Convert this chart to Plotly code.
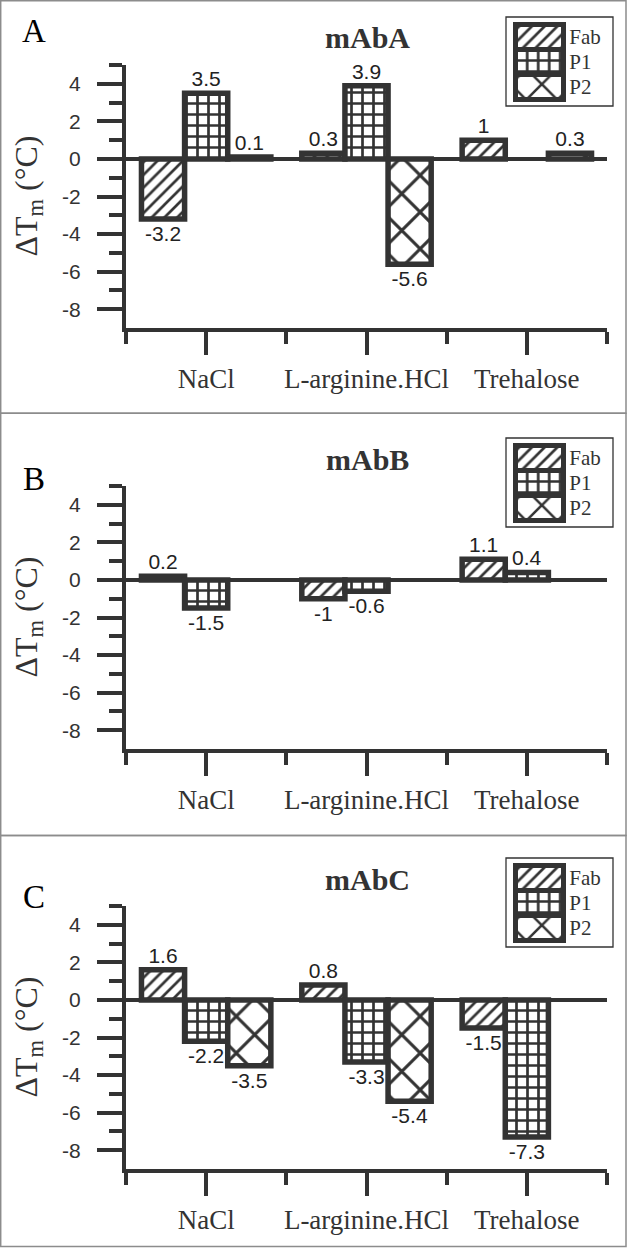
import plotly.graph_objects as go

W, H = 628, 1248

CATEGORIES = ["NaCl", "L-arginine.HCl", "Trehalose"]
SERIES = ["Fab", "P1", "P2"]
PANEL_TITLES = ["mAbA", "mAbB", "mAbC"]
PANEL_LETTERS = ["A", "B", "C"]

MABA_FAB = [-3.2, 0.3, 1.0]
MABA_P1 = [3.5, 3.9, None]
MABA_P2 = [0.1, -5.6, 0.3]

MABB_FAB = [0.2, -1.0, 1.1]
MABB_P1 = [-1.5, -0.6, 0.4]
MABB_P2 = [None, None, None]

MABC_FAB = [1.6, 0.8, -1.5]
MABC_P1 = [-2.2, -3.3, -7.3]
MABC_P2 = [-3.5, -5.4, None]

Y_TICKS = [4, 2, 0, -2, -4, -6, -8]
Y_MINOR = [5, 3, 1, -1, -3, -5, -7]
Y_RANGE = [-9, 5]
LEGEND_SWATCH = [1, 1, 1]

PANEL_DATA = [
    [MABA_FAB, MABA_P1, MABA_P2],
    [MABB_FAB, MABB_P1, MABB_P2],
    [MABC_FAB, MABC_P1, MABC_P2],
]

# ---------- styling ----------
INK = "#333333"
SERIF = "Liberation Serif, Times New Roman, serif"
SANS = "Liberation Sans, Arial, sans-serif"
PATTERNS = {
    "Fab": dict(shape="/", size=9, solidity=0.3),
    "P1": dict(shape="+", size=11, solidity=0.43),
    "P2": dict(shape="x", size=26, solidity=0.22),
}
GROUP_WIDTH = 0.807
BAR_W = GROUP_WIDTH / len(SERIES)

# panel geometry in pixels
AXIS_TOP = [65, 486, 906]
AXIS_BOT = [328, 749, 1169]
BOX_TOP = [0.7, 413.3, 835.5]
BOX_BOT = [413.3, 835.5, 1246.5]
LETTER_Y = [31, 479, 897]
TITLE_Y = [37, 459, 879]
X_LEFT, X_RIGHT = 126, 607


def px(x):
    return x / W


def py(y):
    return 1 - y / H


fig = go.Figure()
layout = dict(
    width=W, height=H,
    margin=dict(l=0, r=0, t=0, b=0),
    paper_bgcolor="white", plot_bgcolor="rgba(0,0,0,0)",
    barmode="group",
    showlegend=False,
)
annotations = []
shapes = []

for i in range(3):
    n = i + 1
    xa = "x" if n == 1 else f"x{n}"
    ya = "y" if n == 1 else f"y{n}"
    for j, (s, vals) in enumerate(zip(SERIES, PANEL_DATA[i])):
        p = PATTERNS[s]
        xs = [k for k, v in enumerate(vals) if v is not None]
        ys = [v for v in vals if v is not None]
        fig.add_trace(go.Bar(
            x=xs, y=ys, name=s,
            text=[f"{v:g}" for v in ys], textposition="outside",
            cliponaxis=False,
            width=BAR_W, offset=-GROUP_WIDTH / 2 + j * BAR_W,
            textfont=dict(family=SANS, size=21, color="#222222"),
            marker=dict(
                color="white",
                line=dict(color=INK, width=5.5),
                pattern=dict(shape=p["shape"], size=p["size"], solidity=p["solidity"],
                             fgcolor=INK, bgcolor="white", fillmode="replace"),
            ),
            xaxis=xa, yaxis=ya, hoverinfo="skip",
        ))
    xkey = "xaxis" if n == 1 else f"xaxis{n}"
    ykey = "yaxis" if n == 1 else f"yaxis{n}"
    layout[xkey] = dict(
        domain=[px(X_LEFT), px(X_RIGHT)], anchor=ya,
        range=[-0.5, len(CATEGORIES) - 0.5],
        tickmode="array", tickvals=list(range(len(CATEGORIES))), ticktext=CATEGORIES,
        ticks="outside", ticklen=23, tickwidth=4, tickcolor=INK,
        minor=dict(tickmode="array", tickvals=[k - 0.5 for k in range(len(CATEGORIES) + 1)],
                   ticks="outside", ticklen=12, tickwidth=4, tickcolor=INK, showgrid=False),
        showline=True, linewidth=4, linecolor=INK,
        showgrid=False, zeroline=False,
        tickfont=dict(family=SERIF, size=27, color=INK),
        ticklabelstandoff=1,
        fixedrange=True,
    )
    layout[ykey] = dict(
        domain=[py(AXIS_BOT[i]), py(AXIS_TOP[i])], anchor=xa,
        range=Y_RANGE,
        tickmode="array", tickvals=Y_TICKS, ticktext=[str(t) for t in Y_TICKS],
        ticks="outside", ticklen=25, tickwidth=4, tickcolor=INK,
        minor=dict(tickmode="array", tickvals=Y_MINOR, ticks="outside", ticklen=13,
                   tickwidth=4, tickcolor=INK, showgrid=False),
        showline=True, linewidth=4, linecolor=INK,
        showgrid=False,
        zeroline=True, zerolinewidth=4, zerolinecolor=INK,
        tickfont=dict(family=SANS, size=21, color=INK),
        ticklabelstandoff=12,
        fixedrange=True,
    )
    # y axis title
    annotations.append(dict(
        text="ΔT<sub>m</sub> (°C)", textangle=-90,
        x=px(28), y=py((AXIS_TOP[i] + AXIS_BOT[i]) / 2), xref="paper", yref="paper",
        xanchor="center", yanchor="middle", showarrow=False,
        font=dict(family=SERIF, size=32, color=INK),
    ))
    # panel letter
    annotations.append(dict(
        text=PANEL_LETTERS[i], x=px(34), y=py(LETTER_Y[i]), xref="paper", yref="paper",
        xanchor="center", yanchor="middle", showarrow=False,
        font=dict(family=SERIF, size=33, color="black"),
    ))
    # panel title
    annotations.append(dict(
        text="<b>" + PANEL_TITLES[i] + "</b>", x=px(367), y=py(TITLE_Y[i]),
        xref="paper", yref="paper", xanchor="center", yanchor="middle", showarrow=False,
        font=dict(family=SERIF, size=30, color=INK),
    ))
    # panel frame
    shapes.append(dict(type="rect", xref="paper", yref="paper",
                       x0=px(0.7), x1=px(626), y0=py(BOX_BOT[i]), y1=py(BOX_TOP[i]),
                       line=dict(color="#8c8c8c", width=1.5), layer="below"))

    # ---- custom legend (one per panel) ----
    ln = n + 3
    lxa, lya = f"x{ln}", f"y{ln}"
    top = AXIS_TOP[i]
    fig.add_trace(go.Bar(
        x=LEGEND_SWATCH, y=SERIES, orientation="h", width=1,
        marker=dict(
            color="white", line=dict(color=INK, width=5),
            pattern=dict(shape=[PATTERNS[s]["shape"] for s in SERIES],
                         size=[min(PATTERNS[s]["size"], 22) for s in SERIES],
                         solidity=[PATTERNS[s]["solidity"] for s in SERIES],
                         fgcolor=INK, bgcolor="white", fillmode="replace"),
        ),
        xaxis=lxa, yaxis=lya, hoverinfo="skip", showlegend=False,
    ))
    layout[f"xaxis{ln}"] = dict(
        domain=[px(510.7), px(568.3)], anchor=lya, range=[-0.1, 1.1],
        visible=False, fixedrange=True,
    )
    layout[f"yaxis{ln}"] = dict(
        domain=[py(top + 37), py(top - 43)], anchor=lxa,
        type="category", categoryorder="array", categoryarray=SERIES,
        range=[len(SERIES) - 0.5 + 0.1, -0.5 - 0.1],
        side="right", showline=False, showgrid=False, zeroline=False, ticks="",
        tickfont=dict(family=SERIF, size=21, color=INK),
        ticklabelstandoff=0, fixedrange=True,
    )
    shapes.append(dict(type="rect", xref="paper", yref="paper",
                       x0=px(506), x1=px(613), y0=py(top + 41), y1=py(top - 48),
                       line=dict(color=INK, width=1.3)))

layout["annotations"] = annotations
layout["shapes"] = shapes
fig.update_layout(**layout)
fig.write_html("out.html",
               config={"displayModeBar": False, "staticPlot": True},
               post_script="document.body.style.margin='0';document.body.style.overflow='hidden';")
